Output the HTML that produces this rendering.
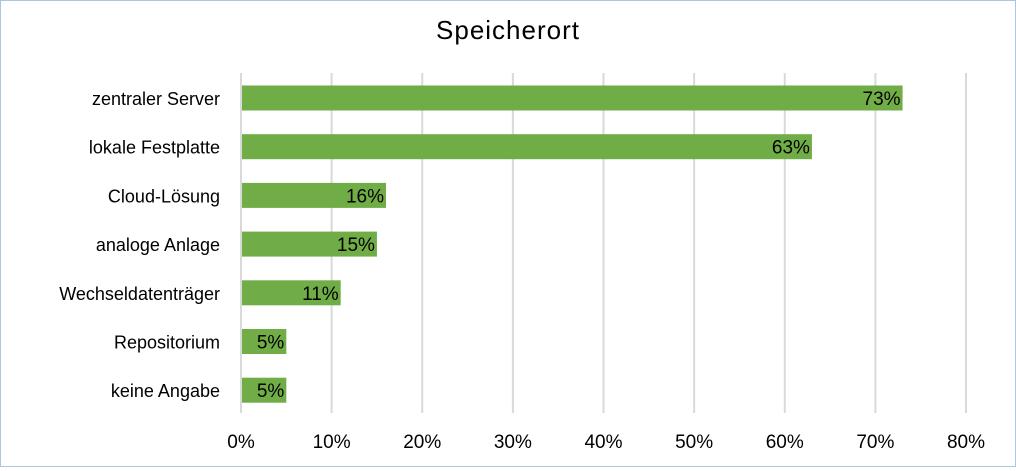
<!DOCTYPE html>
<html><head><meta charset="utf-8"><style>
html,body{margin:0;padding:0;background:#fff}
#c{width:1016px;height:467px;position:relative;box-sizing:border-box;border:1px solid #a9c6e2;font-family:"Liberation Sans",sans-serif}
svg text{font-family:"Liberation Sans",sans-serif;fill:#000}
</style></head><body>
<div id="c">
<svg id="s" width="1014" height="465"></svg>
</div>
<script>
const categories=["zentraler Server","lokale Festplatte","Cloud-Lösung","analoge Anlage","Wechseldatenträger","Repositorium","keine Angabe"];
const values=[73,63,16,15,11,5,5];
const ticks=[0,10,20,30,40,50,60,70,80];
const ns="http://www.w3.org/2000/svg";
const s=document.getElementById('s');
const x0=240,x1=965,xmax=80;
const xs=v=>x0+(x1-x0)*v/xmax;
const yTop=72,step=48.7,barH=25;
const yc=i=>yTop+25+i*step;
function mk(t,a){const e=document.createElementNS(ns,t);for(const k in a)e.setAttribute(k,a[k]);s.appendChild(e);return e;}
const title=mk('text',{x:507,y:38,'text-anchor':'middle','font-size':26,'letter-spacing':'1'});
title.textContent='Speicherort';


ticks.forEach(t=>{
  const g=mk('line',{x1:xs(t),x2:xs(t),y1:yTop,y2:412,stroke:'#d9d9d9','stroke-width':2});
  
  
  const l=mk('text',{x:xs(t),y:447,'text-anchor':'middle','font-size':19});
  l.textContent=t+'%';
  
  
});
categories.forEach((c,i)=>{
  const y=yc(i);
  const l=mk('text',{x:219,y:y+7,'text-anchor':'end','font-size':18});
  l.textContent=c;
  
  
  const b=mk('rect',{x:xs(0)+1,y:y-barH/2,width:xs(values[i])-xs(0)-1,height:barH,fill:'#70ad47'});
  
  
  const v=mk('text',{x:xs(values[i])-2,y:y+7,'text-anchor':'end','font-size':19});
  v.textContent=values[i]+'%';
  
  
});
</script>
</body></html>
